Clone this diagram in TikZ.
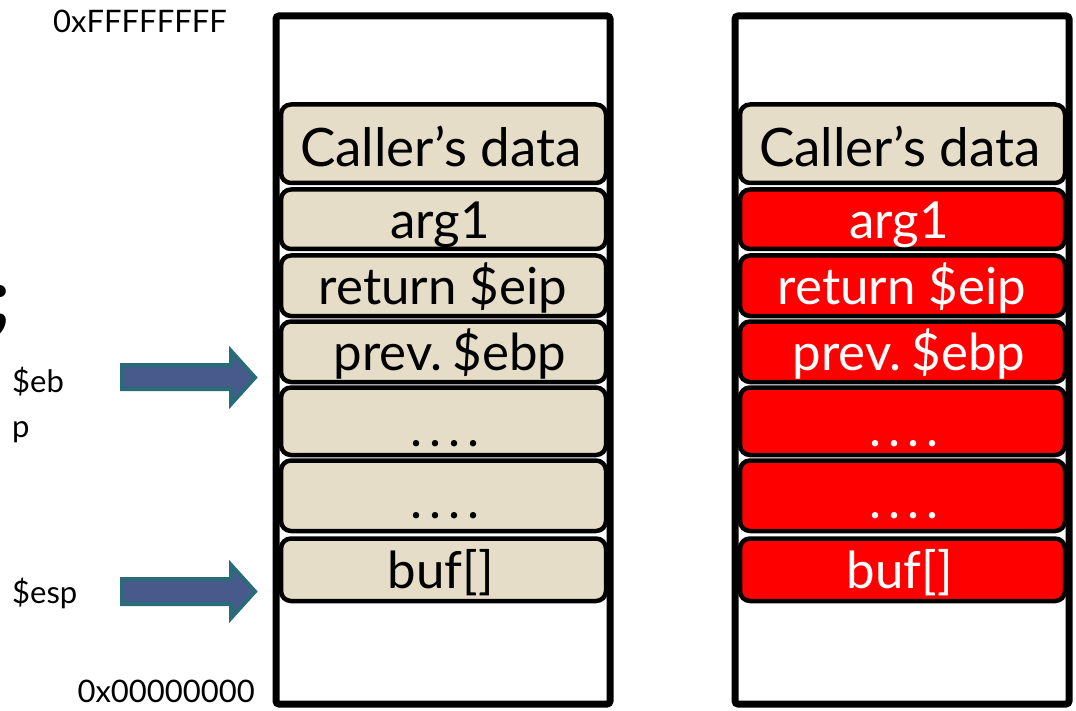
\documentclass[tikz,border=0pt]{standalone}
\usepackage{fontspec}
\setmainfont{Lato}
\definecolor{beige}{HTML}{E5DDC8}
\definecolor{arrowfill}{HTML}{485A8B}
\definecolor{arrowline}{HTML}{296B78}
\newcommand{\fourdots}{.\kern7pt.\kern7pt.\kern7pt.}
\tikzset{
  outerbox/.style={draw=black, line width=7pt, fill=white, rounded corners=3pt},
  cellbeige/.style={draw=black, line width=4.5pt, fill=beige, rounded corners=10pt},
  cellred/.style={draw=black, line width=4.5pt, fill=red, rounded corners=10pt},
  celltext/.style={anchor=base, inner sep=0pt, font=\fontsize{51}{60}\selectfont},
  bigtext/.style={anchor=base, inner sep=0pt, font=\fontsize{53}{64}\selectfont},
  sidelabel/.style={inner sep=0pt, font=\fontsize{31}{36}\selectfont},
  blockarrow/.style={draw=arrowline, line width=4pt, fill=arrowfill, line join=miter}
}
\begin{document}
\begin{tikzpicture}[x=1pt,y=-1pt]
\useasboundingbox (0,0) rectangle (1076,711);
% outer stack boxes
\draw[outerbox] (276,16) rectangle (610,704);
\draw[outerbox] (735,16) rectangle (1069,704);
% left stack cells
\draw[cellbeige] (281,104.5) rectangle (606,183);
\draw[cellbeige] (281,189.5) rectangle (606,249);
\draw[cellbeige] (281,255.5) rectangle (606,316);
\draw[cellbeige] (281,321.5) rectangle (606,382);
\draw[cellbeige] (281,387.5) rectangle (606,455);
\draw[cellbeige] (281,460.5) rectangle (606,531);
\draw[cellbeige] (281,538.5) rectangle (606,601);
% right stack cells
\draw[cellbeige] (740,104.5) rectangle (1065,183);
\draw[cellred] (740,189.5) rectangle (1065,249);
\draw[cellred] (740,255.5) rectangle (1065,316);
\draw[cellred] (740,321.5) rectangle (1065,382);
\draw[cellred] (740,387.5) rectangle (1065,455);
\draw[cellred] (740,460.5) rectangle (1065,531);
\draw[cellred] (740,538.5) rectangle (1065,601);
% left texts
\node[bigtext] (lcaller) at (441,167) {Caller’s data};
\node[celltext] (larg) at (440,239) {arg1};
\node[celltext] (lret) at (443,305) {return \$eip};
\node[celltext] (lebp) at (450,370) {prev.\kern10pt\$ebp};
\node[celltext] (ldotsa) at (445,446) {\fourdots};
\node[celltext] (ldotsb) at (445,518) {\fourdots};
\node[celltext] (lbuf) at (441,588) {buf[]};
% right texts
\node[bigtext] (rcaller) at (900,167) {Caller’s data};
\node[celltext, text=white] (rarg) at (899,239) {arg1};
\node[celltext, text=white] (rret) at (902,305) {return \$eip};
\node[celltext, text=white] (rebp) at (909,370) {prev.\kern10pt\$ebp};
\node[celltext, text=white] (rdotsa) at (904,446) {\fourdots};
\node[celltext, text=white] (rdotsb) at (904,518) {\fourdots};
\node[celltext, text=white] (rbuf) at (900,588) {buf[]};
% address labels
\node[sidelabel, anchor=base east] (top) at (227,33) {0xFFFFFFFF};
\node[sidelabel, anchor=base east] (bottom) at (255,702) {0x00000000};
% register labels
\node[sidelabel, anchor=base west] (ebpa) at (12,392) {\$eb};
\node[sidelabel, anchor=base west] (ebpb) at (12,437) {p};
\node[sidelabel, anchor=base west] (esp) at (12,603) {\$esp};
\node[anchor=base east, inner sep=0pt, font=\fontsize{80}{90}\selectfont\bfseries] (semi) at (11,325) {;};
% block arrows
\draw[blockarrow] (122,365) -- (231,365) -- (231,351) -- (255,377.5) -- (231,404) -- (231,389) -- (122,389) -- cycle;
\draw[blockarrow] (122,579) -- (231,579) -- (231,565) -- (255,591.5) -- (231,618) -- (231,604) -- (122,604) -- cycle;
\end{tikzpicture}
\end{document}
